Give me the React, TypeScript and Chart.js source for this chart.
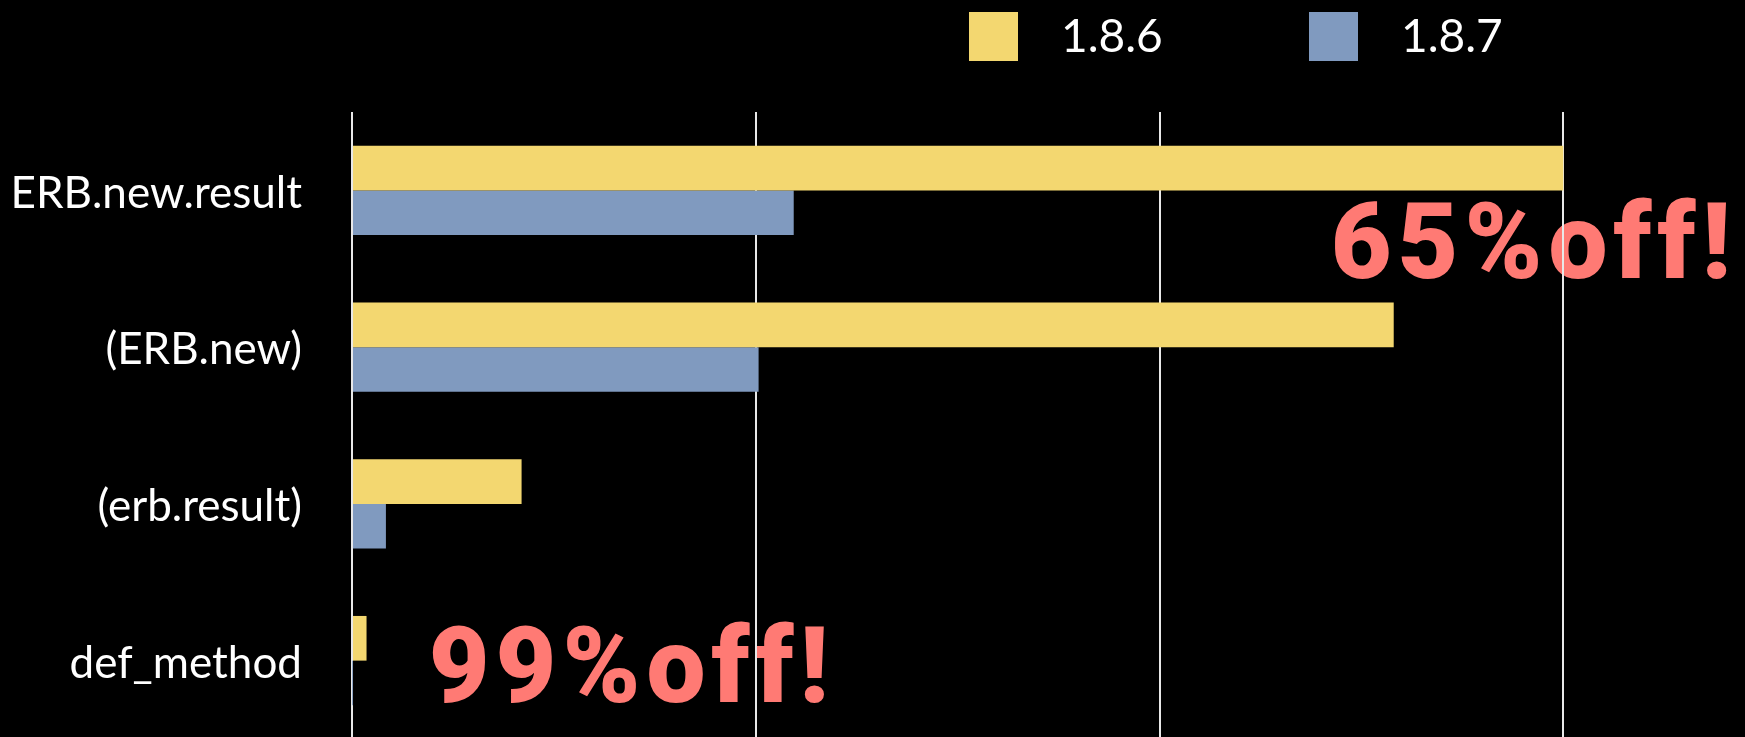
import React, { useEffect, useRef } from "react";
import { Chart, registerables } from "chart.js";

Chart.register(...registerables);

const categories = ["ERB.new.result", "(ERB.new)", "(erb.result)", "def_method"];
const seriesLabels = ["1.8.6", "1.8.7"];
const values186 = [3.0, 2.58, 0.42, 0.036];
const values187 = [1.094, 1.007, 0.084, 0.0004];
const gridTicks = [0, 1, 2, 3];
const callouts = ["65%off!", "99%off!"];

const YELLOW = "rgb(243, 215, 112)";
const BLUE = "rgb(128, 154, 191)";
const SALMON = "rgb(255, 122, 116)";

export default function App() {
  const ref = useRef<HTMLCanvasElement | null>(null);

  useEffect(() => {
    document.body.style.margin = "0";
    document.body.style.background = "#000";
    const canvas = ref.current;
    if (!canvas) return;

    const calloutPlugin = {
      id: "callouts",
      beforeDraw(chart: any) {
        const { ctx, scales } = chart;
        const xs = scales.x;
        const ys = scales.y;
        const anchors = [
          { x: 2.424, y: 0.556 },
          { x: 0.19, y: 3.262 },
        ];
        ctx.save();
        ctx.fillStyle = SALMON;
        ctx.font = "900 105px Roboto";
        (ctx as any).letterSpacing = "6px";
        ctx.textAlign = "left";
        ctx.textBaseline = "alphabetic";
        callouts.forEach((t, i) => {
          ctx.fillText(t, xs.getPixelForValue(anchors[i].x), ys.getPixelForValue(anchors[i].y));
        });
        ctx.restore();
      },
    };

    const legendPlugin = {
      id: "customLegend",
      afterDraw(chart: any) {
        const { ctx } = chart;
        const colors = [YELLOW, BLUE];
        const startX = [969, 1309];
        ctx.save();
        ctx.font = "46px Lato";
        ctx.textBaseline = "middle";
        ctx.textAlign = "left";
        seriesLabels.forEach((lab, i) => {
          ctx.fillStyle = colors[i];
          ctx.fillRect(startX[i], 12, 49, 49);
          ctx.fillStyle = "#fff";
          ctx.fillText(lab, startX[i] + 49 + 43, 37);
        });
        ctx.restore();
      },
    };

    const chart = new Chart(canvas, {
      type: "bar",
      data: {
        labels: categories,
        datasets: [
          {
            label: seriesLabels[0],
            data: values186,
            backgroundColor: YELLOW,
            borderWidth: 0,
            categoryPercentage: 0.57,
            barPercentage: 1.0,
          },
          {
            label: seriesLabels[1],
            data: values187,
            backgroundColor: BLUE,
            borderWidth: 0,
            categoryPercentage: 0.57,
            barPercentage: 1.0,
          },
        ],
      },
      options: {
        indexAxis: "y",
        responsive: false,
        animation: false,
        devicePixelRatio: 1,
        layout: { padding: { top: 112, left: 0, right: 0, bottom: 0 } },
        plugins: {
          legend: { display: false },
          tooltip: { enabled: false },
        },
        scales: {
          x: {
            min: 0,
            max: 3.45,
            ticks: { display: false },
            grid: { color: "#e8e8e8", lineWidth: 2, drawTicks: false },
            border: { display: false },
            afterBuildTicks: (s: any) => {
              s.ticks = gridTicks.map((v) => ({ value: v }));
            },
            afterFit: (s: any) => {
              s.height = 0;
              s.paddingLeft = 0;
              s.paddingRight = 0;
            },
          },
          y: {
            ticks: {
              color: "#fff",
              font: { family: "Lato", size: 44 },
              padding: 42,
              labelOffset: 3,
            },
            grid: { display: false },
            border: { display: false },
            afterFit: (s: any) => {
              s.width = 352;
              s.paddingTop = 0;
              s.paddingBottom = 0;
            },
          },
        },
      },
      plugins: [calloutPlugin, legendPlugin],
    });

    return () => chart.destroy();
  }, []);

  return (
    <div
      style={{
        position: "fixed",
        left: 0,
        top: 0,
        width: 1745,
        height: 737,
        overflow: "hidden",
        background: "#000",
      }}
    >
      <canvas ref={ref} width={1745} height={739} style={{ display: "block" }} />
    </div>
  );
}
